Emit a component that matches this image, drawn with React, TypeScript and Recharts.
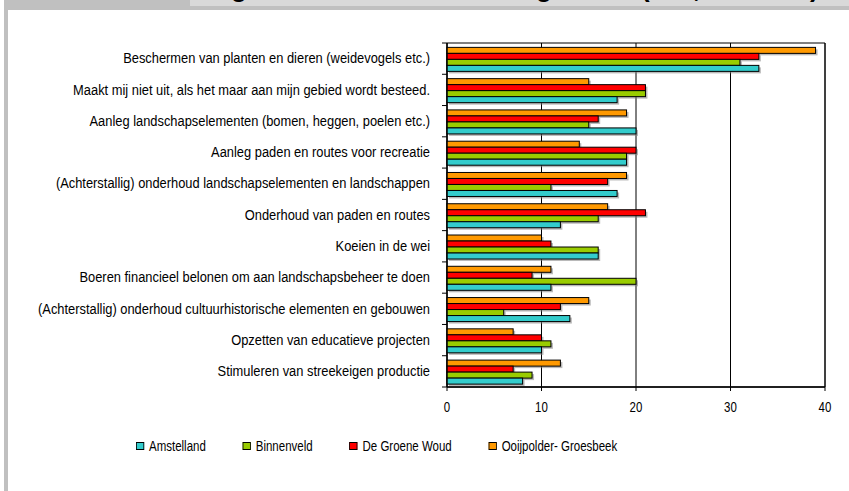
import { BarChart, Bar, XAxis, YAxis, Legend, CartesianGrid, ReferenceArea } from "recharts";

const categories = [
  "Beschermen van planten en dieren (weidevogels etc.)",
  "Maakt mij niet uit, als het maar aan mijn gebied wordt besteed.",
  "Aanleg landschapselementen (bomen, heggen, poelen etc.)",
  "Aanleg paden en routes voor recreatie",
  "(Achterstallig) onderhoud landschapselementen en landschappen",
  "Onderhoud van paden en routes",
  "Koeien in de wei",
  "Boeren financieel belonen om aan landschapsbeheer te doen",
  "(Achterstallig) onderhoud cultuurhistorische elementen en gebouwen",
  "Opzetten van educatieve projecten",
  "Stimuleren van streekeigen productie",
];

const amstelland = [33, 18, 20, 19, 18, 12, 16, 11, 13, 10, 8];
const binnenveld = [31, 21, 15, 19, 11, 16, 16, 20, 6, 11, 9];
const groeneWoud = [33, 21, 16, 20, 17, 21, 11, 9, 12, 10, 7];
const ooijpolder = [39, 15, 19, 14, 19, 17, 10, 11, 15, 7, 12];

const xTicks = [0, 10, 20, 30, 40];

// legend order (bars are stacked top-down in reverse)
const series = [
  { key: "amstelland", name: "Amstelland", color: "#33CCCC" },
  { key: "binnenveld", name: "Binnenveld", color: "#99CC00" },
  { key: "groeneWoud", name: "De Groene Woud", color: "#FF0000" },
  { key: "ooijpolder", name: "Ooijpolder- Groesbeek", color: "#FF9900" },
];

const data = categories.map((name, i) => ({
  name,
  amstelland: amstelland[i],
  binnenveld: binnenveld[i],
  groeneWoud: groeneWoud[i],
  ooijpolder: ooijpolder[i],
}));

// no narrow font available, so Liberation Sans is squeezed horizontally
const FONT = '"Liberation Sans", Arial, sans-serif';
const NARROW = 0.82;
const LABEL_NARROW = 0.92;
const W = 849;
const H = 491;
const MARGIN = { top: 43, right: 24, bottom: 74, left: 0 };
const X_AXIS_H = 30;
const PLOT_H = H - MARGIN.top - MARGIN.bottom - X_AXIS_H;
const BAND = PLOT_H / categories.length;

function NarrowText({ x, y, anchor, children, baseline, squeeze = NARROW }: any) {
  return (
    <text
      transform={`translate(${x},${y}) scale(${squeeze},1)`}
      textAnchor={anchor}
      dominantBaseline={baseline}
      fontSize={14}
      fill="#000"
      fontFamily={FONT}
    >
      {children}
    </text>
  );
}

function ShadowBar(props: any) {
  const { x, y, width, height, fill } = props;
  if (!width || width <= 0) return null;
  return (
    <g>
      <rect x={x + 2} y={y + 2} width={width} height={height} fill="#7f7f7f" opacity={0.55} />
      <rect x={x} y={y} width={width} height={height} fill={fill} stroke="#000" strokeWidth={1} />
    </g>
  );
}

function CategoryTick(props: any) {
  const { x, y, payload, index } = props;
  const axisX = x + 17;
  const last = index === categories.length - 1;
  return (
    <g>
      <line x1={axisX - 5} x2={axisX} y1={y - BAND / 2} y2={y - BAND / 2} stroke="#000" />
      {last && <line x1={axisX - 5} x2={axisX} y1={y + BAND / 2} y2={y + BAND / 2} stroke="#000" />}
      <NarrowText x={x} y={y} anchor="end" baseline="central" squeeze={LABEL_NARROW}>
        {payload.value}
      </NarrowText>
    </g>
  );
}

function ValueTick(props: any) {
  const { x, y, payload } = props;
  return (
    <NarrowText x={x} y={y} anchor="middle" baseline="hanging">
      {payload.value}
    </NarrowText>
  );
}

function LegendBox() {
  return (
    <div
      style={{
        display: "flex",
        alignItems: "center",
        gap: 37 / NARROW,
        fontFamily: FONT,
        fontSize: 14,
        color: "#000",
        whiteSpace: "nowrap",
        transform: `scaleX(${NARROW})`,
        transformOrigin: "left center",
      }}
    >
      {series.map((s) => (
        <div key={s.key} style={{ display: "flex", alignItems: "center", gap: 5 / NARROW }}>
          <span
            style={{
              width: 8 / NARROW - 2,
              height: 6,
              background: s.color,
              border: "1px solid #000",
              display: "inline-block",
            }}
          />
          <span>{s.name}</span>
        </div>
      ))}
    </div>
  );
}

export default function App() {
  return (
    <div style={{ position: "absolute", left: 0, top: 0, width: W, height: H, background: "#fff", overflow: "hidden" }}>
      {/* frame: grey strip on the left and the title band across the top */}
      <div style={{ position: "absolute", left: 4, top: 0, width: 4, height: H, background: "#c0c0c0" }} />
      <div style={{ position: "absolute", left: 4, top: 0, width: W - 4, height: 10, background: "#c0c0c0" }} />
      <div style={{ position: "absolute", left: 190, top: 0, width: W - 190, height: 6, background: "#d9d9d9" }} />
      <svg style={{ position: "absolute", left: 190, top: 0 }} width={W - 190} height={6}>
        <text y={-3} fontSize={26} fontWeight="bold" fontFamily={FONT} fill="#000">
          <tspan x={41}>g</tspan>
          <tspan x={346}>g</tspan>
          <tspan x={451}>(</tspan>
          <tspan x={503}>,</tspan>
          <tspan x={620}>)</tspan>
        </text>
      </svg>

      <div style={{ position: "absolute", left: 0, top: 0 }}>
        <BarChart
          width={W}
          height={H}
          data={data}
          layout="vertical"
          margin={MARGIN}
          barCategoryGap="14%"
          barGap={0}
        >
          <CartesianGrid horizontal={false} stroke="#000" />
          <ReferenceArea x1={0} x2={40} fill="none" stroke="#000" strokeWidth={1} />
          <XAxis
            type="number"
            domain={[0, 40]}
            ticks={xTicks}
            height={X_AXIS_H}
            tickSize={4}
            tickMargin={11}
            axisLine={{ stroke: "#000", strokeWidth: 1.5 }}
            tickLine={{ stroke: "#000" }}
            tick={<ValueTick />}
          />
          <YAxis
            type="category"
            dataKey="name"
            width={447}
            interval={0}
            tickSize={5}
            tickMargin={12}
            tickLine={false}
            axisLine={{ stroke: "#000" }}
            tick={<CategoryTick />}
          />
          <Legend
            layout="horizontal"
            verticalAlign="middle"
            align="center"
            wrapperStyle={{ top: 438, left: 136, width: "auto" }}
            content={() => <LegendBox />}
          />
          {[...series].reverse().map((s) => (
            <Bar
              key={s.key}
              dataKey={s.key}
              name={s.name}
              fill={s.color}
              shape={<ShadowBar />}
              isAnimationActive={false}
            />
          ))}
        </BarChart>
      </div>
    </div>
  );
}
